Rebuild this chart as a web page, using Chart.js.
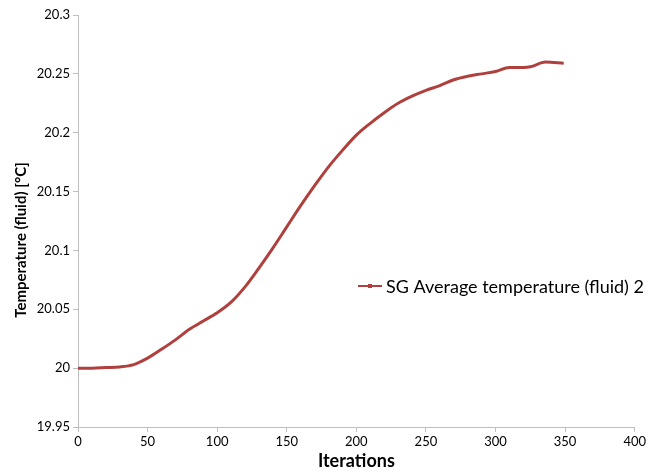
<!DOCTYPE html>
<html>
<head>
<meta charset="utf-8">
<script src="https://cdn.jsdelivr.net/npm/chart.js@4"></script>
<style>
  html, body { margin: 0; padding: 0; background: #fff; }
  #wrap { width: 648px; height: 472px; position: relative; }
</style>
</head>
<body>
<div id="wrap"><canvas id="tempChart" width="648" height="472"></canvas></div>
<script>
// Data
const iterations = [0, 10, 20, 30, 40, 50, 60, 70, 80, 90, 100, 110, 120, 130, 140, 150, 160, 170, 180, 190, 200, 210, 220, 230, 240, 250, 260, 270, 280, 290, 300, 310, 320, 325, 336, 349];
const avgTemp = [20.0, 20.0, 20.0005, 20.001, 20.003, 20.0085, 20.016, 20.024, 20.033, 20.04, 20.047, 20.056, 20.069, 20.085, 20.102, 20.12, 20.138, 20.155, 20.171, 20.185, 20.198, 20.208, 20.217, 20.225, 20.231, 20.236, 20.24, 20.245, 20.248, 20.25, 20.252, 20.2555, 20.2555, 20.256, 20.26, 20.259];
const seriesName = "SG Average temperature (fluid) 2";
const yTitle = "Temperature (fluid) [°C]";
const lineColor = "#B0403D";
const axisColor = "#BFBFBF";

// Legend drawn over the plot, like the original
const insideLegend = {
  id: "insideLegend",
  afterDraw(chart) {
    const c = chart.ctx;
    const ds = chart.data.datasets[0];
    c.save();
    c.strokeStyle = ds.borderColor;
    c.lineWidth = 2;
    c.beginPath();
    c.moveTo(358, 286);
    c.lineTo(382, 286);
    c.stroke();
    c.fillStyle = ds.borderColor;
    c.fillRect(368, 284, 4, 4);
    c.fillStyle = "#000";
    c.font = "18px Lato, 'Open Sans', sans-serif";
    c.textBaseline = "middle";
    c.fillText(ds.label, 386, 287);
    c.restore();
  }
};

// Y axis title, set a little lower than the plot centre as in the original
const yAxisTitle = {
  id: "yAxisTitle",
  afterDraw(chart) {
    const c = chart.ctx;
    c.save();
    c.translate(21, 240);
    c.rotate(-Math.PI / 2);
    c.fillStyle = "#000";
    c.font = "bold 15px Lato, sans-serif";
    c.textAlign = "center";
    c.textBaseline = "middle";
    c.fillText(yTitle, 0, 0);
    c.restore();
  }
};

const ctx = document.getElementById("tempChart").getContext("2d");
const tempChart = new Chart(ctx, {
  type: "scatter",
  data: {
    datasets: [{
      label: seriesName,
      data: iterations.map((x, i) => ({ x: x, y: avgTemp[i] })),
      showLine: true,
      borderColor: lineColor,
      backgroundColor: lineColor,
      borderWidth: 3,
      pointRadius: 0,
      cubicInterpolationMode: "monotone"
    }]
  },
  options: {
    responsive: false,
    animation: false,
    layout: { padding: { top: 15, right: 10, left: 0, bottom: 0 } },
    plugins: {
      legend: { display: false },
      tooltip: { enabled: false }
    },
    scales: {
      x: {
        type: "linear",
        min: 0,
        max: 400,
        ticks: { stepSize: 50, color: "#000", font: { family: "Lato", size: 13 }, padding: 2 },
        grid: { drawOnChartArea: false, color: axisColor, tickLength: 5 },
        border: { color: axisColor },
        title: { display: true, text: "Iterations", color: "#000", font: { family: "Lato", size: 18, weight: "bold" }, padding: 0 },
        afterFit: (s) => { s.height = 45; }
      },
      y: {
        min: 19.95,
        max: 20.3,
        ticks: {
          stepSize: 0.05,
          color: "#000",
          font: { family: "Lato", size: 13 },
          padding: 3,
          callback: (v) => String(Number(v.toFixed(2)))
        },
        grid: { drawOnChartArea: false, color: axisColor, tickLength: 5 },
        border: { color: axisColor },
        afterFit: (s) => { s.width = 78; }
      }
    }
  },
  plugins: [insideLegend, yAxisTitle]
});
</script>
</body>
</html>
